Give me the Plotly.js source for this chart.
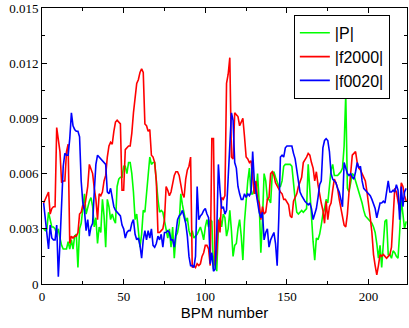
<!DOCTYPE html>
<html>
<head>
<meta charset="utf-8">
<script src="https://cdn.plot.ly/plotly-3.0.1.min.js"></script>
<style>
  html, body { margin: 0; padding: 0; background: #fff; }
</style>
</head>
<body>
<div id="bpm-plot" style="width:409px;height:328px"></div>
<script>
// values per BPM, starting at BPM 1
const pAmp = [
  0.0030, 0.0029, 0.0030, 0.0039, 0.0035, 0.0031, 0.0031, 0.0030, 0.0027, 0.0030,
  0.0025, 0.0021, 0.0019, 0.0019, 0.0019, 0.0023, 0.0019, 0.0024, 0.0019, 0.0026,
  0.0027, 0.0009, 0.0030, 0.0033, 0.0042, 0.0049, 0.0038, 0.0042, 0.0045, 0.0047,
  0.0042, 0.0031, 0.0036, 0.0022, 0.0031, 0.0028, 0.0046, 0.0037, 0.0020, 0.0046,
  0.0042, 0.0035, 0.0038, 0.0035, 0.0033, 0.0053, 0.0057, 0.0058, 0.0058, 0.0064,
  0.0064, 0.0060, 0.0066, 0.0066, 0.0060, 0.0050, 0.0035, 0.0038, 0.0029, 0.0020,
  0.0027, 0.0040, 0.0039, 0.0049, 0.0056, 0.0069, 0.0065, 0.0066, 0.0066, 0.0055,
  0.0046, 0.0039, 0.0040, 0.0039, 0.0034, 0.0030, 0.0025, 0.0030, 0.0020, 0.0031,
  0.0014, 0.0026, 0.0028, 0.0033, 0.0049, 0.0043, 0.0038, 0.0034, 0.0036, 0.0029,
  0.0026, 0.0029, 0.0025, 0.0026, 0.0027, 0.0029, 0.0031, 0.0028, 0.0024, 0.0031,
  0.0035, 0.0031, 0.0035, 0.0034, 0.0008, 0.0018, 0.0007, 0.0031, 0.0036, 0.0031,
  0.0038, 0.0036, 0.0026, 0.0030, 0.0040, 0.0029, 0.0015, 0.0021, 0.0022, 0.0030,
  0.0035, 0.0026, 0.0013, 0.0034, 0.0048, 0.0056, 0.0063, 0.0049, 0.0049, 0.0052,
  0.0049, 0.0060, 0.0044, 0.0017, 0.0035, 0.0060, 0.0056, 0.0046, 0.0046, 0.0044,
  0.0060, 0.0061, 0.0058, 0.0055, 0.0053, 0.0053, 0.0056, 0.0064, 0.0065, 0.0065,
  0.0065, 0.0065, 0.0064, 0.0053, 0.0046, 0.0039, 0.0038, 0.0039, 0.0040, 0.0039,
  0.0040, 0.0041, 0.0065, 0.0050, 0.0034, 0.0023, 0.0013, 0.0025, 0.0024, 0.0027,
  0.0032, 0.0038, 0.0041, 0.0046, 0.0044, 0.0055, 0.0062, 0.0065, 0.0059, 0.0059,
  0.0059, 0.0060, 0.0061, 0.0063, 0.0075, 0.0103, 0.0052, 0.0050, 0.0056, 0.0060,
  0.0059, 0.0056, 0.0053, 0.0050, 0.0048, 0.0044, 0.0040, 0.0037, 0.0036, 0.0035,
  0.0034, 0.0033, 0.0031, 0.0028, 0.0022, 0.0014, 0.0021, 0.0009, 0.0022, 0.0034,
  0.0035, 0.0016, 0.0016, 0.0014, 0.0018, 0.0017, 0.0015, 0.0014, 0.0028, 0.0046,
  0.0038, 0.0030, 0.0034
];

const f2000 = [
  0.0044, 0.0046, 0.0048, 0.0050, 0.0038, 0.0041, 0.0042, 0.0042, 0.0085, 0.0078,
  0.0072, 0.0055, 0.0056, 0.0056, 0.0072, 0.0076, 0.0022, 0.0026, 0.0025, 0.0026,
  0.0026, 0.0028, 0.0038, 0.0039, 0.0043, 0.0041, 0.0047, 0.0053, 0.0065, 0.0062,
  0.0060, 0.0052, 0.0046, 0.0035, 0.0049, 0.0048, 0.0050, 0.0056, 0.0059, 0.0069,
  0.0075, 0.0077, 0.0076, 0.0083, 0.0088, 0.0089, 0.0088, 0.0087, 0.0051, 0.0051,
  0.0073, 0.0074, 0.0075, 0.0075, 0.0082, 0.0093, 0.0103, 0.0109, 0.0111, 0.0115,
  0.0117, 0.0115, 0.0087, 0.0086, 0.0083, 0.0084, 0.0070, 0.0069, 0.0066, 0.0056,
  0.0028, 0.0028, 0.0029, 0.0030, 0.0035, 0.0053, 0.0051, 0.0048, 0.0050, 0.0054,
  0.0059, 0.0061, 0.0061, 0.0059, 0.0053, 0.0049, 0.0047, 0.0057, 0.0062, 0.0064,
  0.0069, 0.0009, 0.0010, 0.0009, 0.0011, 0.0010, 0.0011, 0.0015, 0.0017, 0.0021,
  0.0021, 0.0019, 0.0010, 0.0079, 0.0079, 0.0010, 0.0017, 0.0035, 0.0028, 0.0047,
  0.0046, 0.0048, 0.0109, 0.0114, 0.0123, 0.0069, 0.0068, 0.0093, 0.0092, 0.0091,
  0.0086, 0.0088, 0.0090, 0.0080, 0.0069, 0.0068, 0.0066, 0.0067, 0.0056, 0.0049,
  0.0056, 0.0046, 0.0044, 0.0035, 0.0042, 0.0038, 0.0039, 0.0046, 0.0047, 0.0060,
  0.0061, 0.0059, 0.0055, 0.0053, 0.0052, 0.0050, 0.0049, 0.0046, 0.0046, 0.0044,
  0.0043, 0.0037, 0.0036, 0.0045, 0.0047, 0.0049, 0.0053, 0.0056, 0.0058, 0.0066,
  0.0068, 0.0069, 0.0071, 0.0070, 0.0066, 0.0063, 0.0056, 0.0061, 0.0054, 0.0048,
  0.0044, 0.0040, 0.0033, 0.0045, 0.0035, 0.0042, 0.0044, 0.0051, 0.0057, 0.0055,
  0.0052, 0.0046, 0.0041, 0.0036, 0.0032, 0.0031, 0.0038, 0.0050, 0.0060, 0.0070,
  0.0071, 0.0072, 0.0066, 0.0063, 0.0062, 0.0060, 0.0058, 0.0056, 0.0050, 0.0044,
  0.0036, 0.0028, 0.0016, 0.0010, 0.0005, 0.0010, 0.0016, 0.0015, 0.0016, 0.0015,
  0.0014, 0.0015, 0.0016, 0.0020, 0.0036, 0.0052, 0.0050, 0.0045, 0.0040, 0.0055,
  0.0053, 0.0048, 0.0045
];

const f0020 = [
  0.0044, 0.0035, 0.0024, 0.0019, 0.0032, 0.0025, 0.0024, 0.0024, 0.0032, 0.0004,
  0.0022, 0.0044, 0.0064, 0.0071, 0.0070, 0.0070, 0.0079, 0.0093, 0.0086, 0.0084,
  0.0083, 0.0083, 0.0080, 0.0056, 0.0044, 0.0040, 0.0029, 0.0035, 0.0026, 0.0031,
  0.0033, 0.0050, 0.0065, 0.0070, 0.0069, 0.0068, 0.0067, 0.0066, 0.0065, 0.0050,
  0.0049, 0.0052, 0.0046, 0.0042, 0.0040, 0.0039, 0.0038, 0.0037, 0.0032, 0.0030,
  0.0025, 0.0028, 0.0029, 0.0029, 0.0033, 0.0035, 0.0027, 0.0024, 0.0025, 0.0021,
  0.0014, 0.0024, 0.0029, 0.0024, 0.0029, 0.0025, 0.0030, 0.0021, 0.0020, 0.0022,
  0.0026, 0.0024, 0.0027, 0.0020, 0.0028, 0.0028, 0.0029, 0.0028, 0.0024, 0.0024,
  0.0020, 0.0029, 0.0035, 0.0037, 0.0038, 0.0040, 0.0037, 0.0033, 0.0026, 0.0015,
  0.0010, 0.0010, 0.0009, 0.0015, 0.0053, 0.0035, 0.0037, 0.0038, 0.0040, 0.0041,
  0.0038, 0.0036, 0.0011, 0.0017, 0.0007, 0.0008, 0.0028, 0.0065, 0.0051, 0.0041,
  0.0042, 0.0038, 0.0040, 0.0060, 0.0078, 0.0093, 0.0089, 0.0066, 0.0063, 0.0053,
  0.0049, 0.0046, 0.0046, 0.0049, 0.0047, 0.0049, 0.0048, 0.0050, 0.0072, 0.0056,
  0.0050, 0.0044, 0.0039, 0.0036, 0.0039, 0.0024, 0.0028, 0.0030, 0.0020, 0.0024,
  0.0026, 0.0028, 0.0022, 0.0010, 0.0036, 0.0069, 0.0070, 0.0069, 0.0074, 0.0075,
  0.0075, 0.0075, 0.0075, 0.0071, 0.0068, 0.0062, 0.0056, 0.0050, 0.0048, 0.0046,
  0.0045, 0.0044, 0.0043, 0.0044, 0.0041, 0.0035, 0.0038, 0.0041, 0.0047, 0.0054,
  0.0056, 0.0074, 0.0078, 0.0079, 0.0078, 0.0072, 0.0060, 0.0057, 0.0056, 0.0055,
  0.0052, 0.0050, 0.0046, 0.0042, 0.0066, 0.0063, 0.0060, 0.0059, 0.0060, 0.0058,
  0.0057, 0.0061, 0.0066, 0.0063, 0.0064, 0.0056, 0.0052, 0.0051, 0.0050, 0.0049,
  0.0048, 0.0046, 0.0044, 0.0041, 0.0036, 0.0040, 0.0044, 0.0044, 0.0045, 0.0044,
  0.0050, 0.0056, 0.0050, 0.0050, 0.0051, 0.0050, 0.0054, 0.0051, 0.0035, 0.0053,
  0.0042, 0.0050, 0.0052
];

const seriesNames = ["|P|", "|f2000|", "|f0020|"];
const seriesColors = ["#00ff00", "#ff0000", "#0000ff"];
const seriesValues = [pAmp, f2000, f0020];

let traces = [];
for (let i = 0; i < seriesNames.length; i++) {
  traces.push({
    y: seriesValues[i],
    x0: 1,
    dx: 1,
    type: "scatter",
    mode: "lines",
    name: seriesNames[i],
    line: { color: seriesColors[i], width: 1.6 },
  });
}

const tickFont = { family: "Liberation Serif, Times New Roman, serif", size: 13, color: "#000" };

let axisBase = {
  ticks: "inside",
  ticklen: 5,
  tickwidth: 1,
  tickcolor: "#000",
  showline: true,
  linecolor: "#000",
  linewidth: 1,
  mirror: "allticks",
  showgrid: false,
  zeroline: false,
  tickfont: tickFont,
};

var layout = {
  width: 409,
  height: 328,
  margin: { l: 42, r: 2, t: 8, b: 44 },
  paper_bgcolor: "#fff",
  plot_bgcolor: "#fff",
  showlegend: true,
  xaxis: Object.assign({}, axisBase, {
    range: [0, 223.5],
    tick0: 0,
    dtick: 50,
    minor: { dtick: 25, ticks: "inside", ticklen: 3, tickcolor: "#000", showgrid: false },
    title: { text: "BPM number", font: { family: "Liberation Sans, Arial, sans-serif", size: 15, color: "#000" }, standoff: 4 },
  }),
  yaxis: Object.assign({}, axisBase, {
    range: [0, 0.0150001],
    tick0: 0,
    dtick: 0.003,
    minor: { dtick: 0.0015, ticks: "inside", ticklen: 3, tickcolor: "#000", showgrid: false },
  }),
  legend: {
    x: 0.69,
    y: 0.975,
    xanchor: "left",
    yanchor: "top",
    bgcolor: "#fff",
    bordercolor: "#000",
    borderwidth: 1,
    font: { family: "Liberation Sans, Arial, sans-serif", size: 16, color: "#000" },
  },
};

Plotly.newPlot("bpm-plot", traces, layout, { staticPlot: true });
</script>
</body>
</html>
